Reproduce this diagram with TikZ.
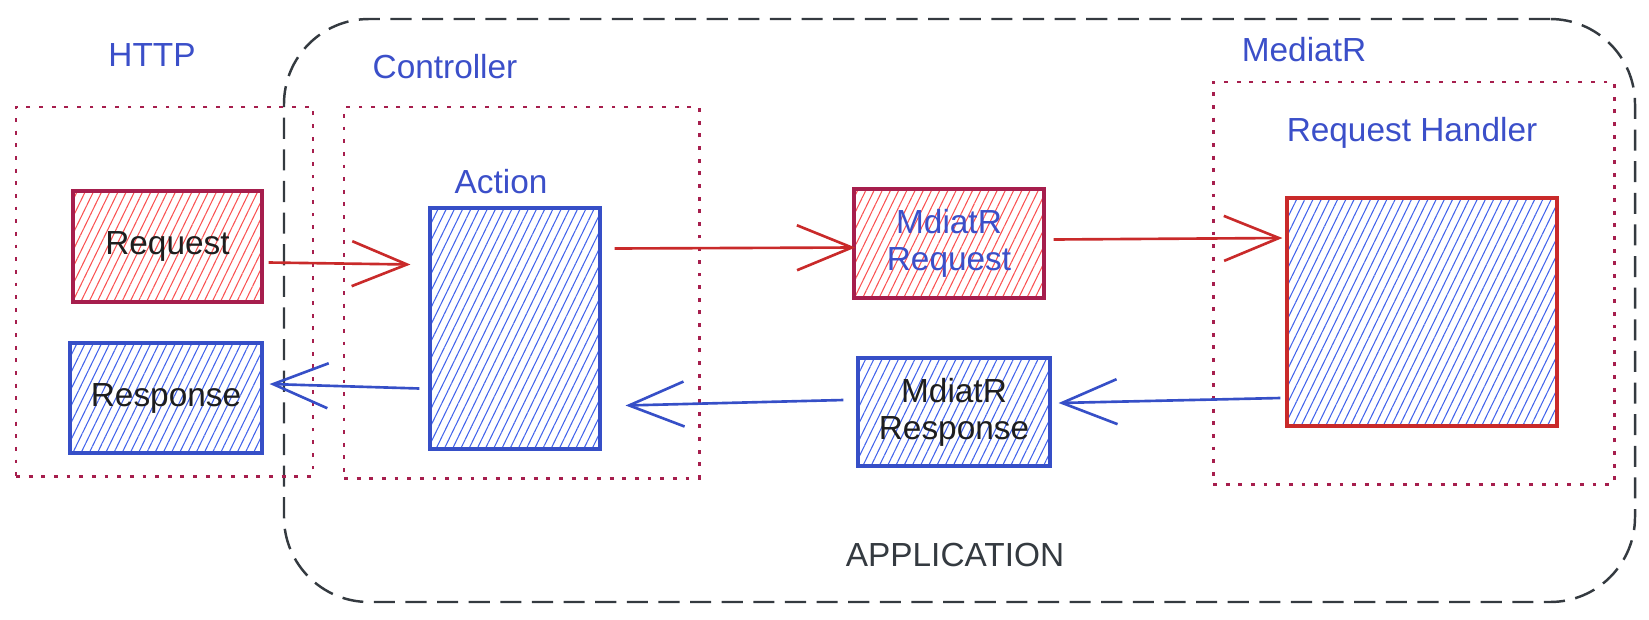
\documentclass[tikz,border=0pt]{standalone}
\usepackage{fontspec}
\setmainfont{Liberation Sans}
\usepackage{tikz}
\usetikzlibrary{arrows.meta, positioning, patterns.meta}

\definecolor{zonered}{HTML}{A61E4D}
\definecolor{arrowred}{HTML}{C92A2A}
\definecolor{hatchred}{HTML}{FA5252}
\definecolor{strokeblue}{HTML}{364FC7}
\definecolor{hatchblue}{HTML}{4263EB}
\definecolor{labelblue}{HTML}{3B4FC9}
\definecolor{inkgray}{HTML}{343A40}
\definecolor{inkblack}{HTML}{1E1E1E}

\newdimen\pxu
\pxu=0.02cm

\begin{document}
\begin{tikzpicture}[
    x=0.02cm, y=-0.02cm,
    font=\fontsize{19}{21}\selectfont,
    zone/.style={
        draw=zonered,
        line width=1.7pt,
        dash pattern=on 2.2pt off 5pt,
        inner sep=0pt
    },
    appbox/.style={
        draw=inkgray,
        line width=1.4pt,
        dash pattern=on 12pt off 6pt,
        rounded corners=1.7cm,
        inner sep=0pt
    },
    redbox/.style={
        draw=zonered,
        line width=1.8pt,
        pattern={Lines[angle=64,distance=4.2pt,line width=0.6pt]},
        pattern color=hatchred,
        inner sep=0pt,
        align=center
    },
    bluebox/.style={
        draw=strokeblue,
        line width=1.8pt,
        pattern={Lines[angle=64,distance=4.2pt,line width=0.6pt]},
        pattern color=hatchblue,
        inner sep=0pt,
        align=center
    },
    lbl/.style={text=labelblue},
    redarrow/.style={draw=arrowred, line width=1.5pt,
        -{Straight Barb[length=1.1cm, width=0.9cm, line width=1.5pt]}},
    bluearrow/.style={draw=strokeblue, line width=1.5pt,
        -{Straight Barb[length=1.1cm, width=0.9cm, line width=1.5pt]}}
]
\useasboundingbox (0,0) rectangle (1649,619);

% application frame and zones
\node[appbox, minimum width=1351\pxu, minimum height=583\pxu] (app) at (959.5,310.5) {};
\node[zone, minimum width=297\pxu, minimum height=369\pxu] (httpzone) at (164.5,291.5) {};
\node[zone, minimum width=355\pxu, minimum height=371\pxu] (ctrlzone) at (521.5,292.5) {};
\node[zone, minimum width=401\pxu, minimum height=402\pxu] (handlerzone) at (1413.5,283) {};

% boxes
\node[redbox, text=inkblack, minimum width=189\pxu, minimum height=111\pxu] (req) at (167.5,246.5) {Request};
\node[bluebox, text=inkblack, minimum width=192\pxu, minimum height=110\pxu] (resp) at (166,398) {Response};
\node[bluebox, minimum width=170\pxu, minimum height=241\pxu] (action) at (515,328.5) {};
\node[redbox, text=labelblue, minimum width=190\pxu, minimum height=109\pxu] (mreq) at (949,243.5) {MdiatR\\Request};
\node[bluebox, text=inkblack, minimum width=192\pxu, minimum height=108\pxu] (mresp) at (954,412) {MdiatR\\Response};
\node[bluebox, draw=arrowred, minimum width=270\pxu, minimum height=228\pxu] (handler) at (1422,312) {};

% labels
\node[lbl] (httplbl) at (152,55) {HTTP};
\node[lbl] (ctrllbl) at (445,67) {Controller};
\node[lbl] (actionlbl) at (501,182) {Action};
\node[lbl] (mediatrlbl) at (1304,50) {MediatR};
\node[lbl] (handlerlbl) at (1412,133) {Request Handler};
\node[text=inkgray] (applbl) at (955,555) {APPLICATION};

% flow
\draw[redarrow] ([shift={(6,16)}]req.east) -- ([shift={(-18,-64)}]action.west);
\draw[redarrow] ([shift={(13,-80)}]action.east) -- ([shift={(3,4)}]mreq.west);
\draw[redarrow] ([shift={(8,-4)}]mreq.east) -- ([shift={(-3,-74)}]handler.west);
\draw[bluearrow] ([shift={(-5,86)}]handler.west) -- ([shift={(7,-9)}]mresp.east);
\draw[bluearrow] ([shift={(-13,-12)}]mresp.west) -- ([shift={(24,77)}]action.east);
\draw[bluearrow] ([shift={(-9,60)}]action.west) -- ([shift={(6,-14)}]resp.east);

\end{tikzpicture}
\end{document}
